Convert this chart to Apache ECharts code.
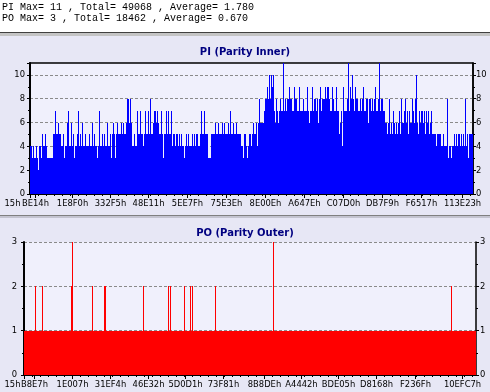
<!DOCTYPE html>
<html><head><meta charset="utf-8">
<script src="https://cdn.jsdelivr.net/npm/echarts/dist/echarts.min.js"></script>
<style>html,body{margin:0;padding:0;background:#fff}#c{width:490px;height:392px}</style>
</head><body><div id="c"></div>
<script>
const headerLines = ['PI Max= 11 , Total= 49068 , Average= 1.780', 'PO Max= 3 , Total= 18462 , Average= 0.670'];
const piTitle = 'PI (Parity Inner)';
const poTitle = 'PO (Parity Outer)';
const piTickLabels = ['15h','BE14h','1E8F0h','332F5h','48E11h','5EE7Fh','75E3Eh','8E00Eh','A647Eh','C07D0h','DB7F9h','F6517h','113E23h'];
const piTickIdx = [0, 5, 42, 80, 118, 157, 196, 235, 274, 313, 352, 391, 432];
const poTickLabels = ['15h','B8E7h','1E007h','31EF4h','46E32h','5D0D1h','73F81h','8B8DEh','A4442h','BDE05h','D8168h','F236Fh','10EFC7h'];
const poTickIdx = [0, 10, 48, 86, 124, 161, 199, 240, 277, 314, 352, 391, 438];

const piValues = [
4,4,3,4,3,3,4,3,2,4, 4,3,5,4,4,5,4,3,3,3, 3,3,3,5,5,7,5,5,6,5, 5,4,4,5,3,4,4,6,7,4,
4,6,4,5,3,4,4,5,7,4, 5,4,6,4,4,5,4,4,4,5, 4,4,6,4,5,4,4,3,4,7, 4,4,5,4,5,4,4,6,4,4,
5,3,5,6,5,3,5,6,5,5, 5,6,5,6,5,5,6,8,8,6, 8,6,4,4,5,4,4,7,5,5, 7,5,5,4,5,7,5,5,7,5,
8,5,5,6,7,7,6,7,6,5, 5,7,5,3,5,5,7,5,7,5, 5,7,4,5,5,4,5,5,4,5, 4,5,4,4,3,4,5,4,5,4,
4,4,5,4,5,4,5,5,4,4, 5,7,5,5,7,5,5,5,3,3, 3,5,5,5,5,6,5,5,6,5, 5,5,6,5,6,5,5,5,6,5,
7,5,5,6,5,5,6,5,5,5, 5,4,4,3,5,5,4,3,4,5, 5,4,5,6,5,5,6,4,6,8, 6,6,6,6,7,8,8,9,8,10,
8,10,9,10,7,6,8,7,6,7, 8,7,7,11,7,8,7,8,8,9, 8,8,7,7,9,8,8,7,7,9, 7,7,7,8,7,7,7,9,7,6,
7,7,9,7,8,8,7,8,6,8, 9,7,8,8,8,9,8,9,9,8, 7,7,9,8,7,7,9,7,7,5, 6,7,4,9,7,7,7,8,11,7,
9,8,10,8,7,9,8,8,7,7, 8,7,8,9,7,7,8,8,6,8, 8,7,8,7,8,9,7,7,8,11, 7,8,8,7,7,6,6,5,6,8,
5,6,5,7,6,5,6,5,6,7, 5,8,6,6,7,8,6,7,5,7, 6,6,8,7,6,8,10,6,5,7, 6,7,7,6,7,5,7,6,7,5,
6,7,5,5,5,5,4,5,5,5, 5,4,4,5,4,4,4,8,3,4, 4,3,4,4,5,4,5,4,5,5, 4,5,4,5,4,8,4,5,3,5,
5,5,5
];

const poValues = [
1,1,1,1,1,1,1,1,1,1,1,2,1,1,1,1,1,1,2,1,
1,1,1,1,1,1,1,1,1,1,1,1,1,1,1,1,1,1,1,1,
1,1,1,1,1,1,1,2,3,1,1,1,1,1,1,1,1,1,1,1,
1,1,1,1,1,1,1,1,2,1,1,1,1,1,1,1,1,1,1,1,
2,2,1,1,1,1,1,1,1,1,1,1,1,1,1,1,1,1,1,1,
1,1,1,1,1,1,1,1,1,1,1,1,1,1,1,1,1,1,1,2,
1,1,1,1,1,1,1,1,1,1,1,1,1,1,1,1,1,1,1,1,
1,1,1,1,2,1,2,1,1,1,1,1,1,1,1,1,1,1,1,1,
2,1,1,1,1,1,2,1,2,1,1,1,1,1,1,1,1,1,1,1,
1,1,1,1,1,1,1,1,1,1,1,2,1,1,1,1,1,1,1,1,
1,1,1,1,1,1,1,1,1,1,1,1,1,1,1,1,1,1,1,1,
1,1,1,1,1,1,1,1,1,1,1,1,1,1,1,1,1,1,1,1,
1,1,1,1,1,1,1,1,1,3,1,1,1,1,1,1,1,1,1,1,
1,1,1,1,1,1,1,1,1,1,1,1,1,1,1,1,1,1,1,1,
1,1,1,1,1,1,1,1,1,1,1,1,1,1,1,1,1,1,1,1,
1,1,1,1,1,1,1,1,1,1,1,1,1,1,1,1,1,1,1,1,
1,1,1,1,1,1,1,1,1,1,1,1,1,1,1,1,1,1,1,1,
1,1,1,1,1,1,1,1,1,1,1,1,1,1,1,1,1,1,1,1,
1,1,1,1,1,1,1,1,1,1,1,1,1,1,1,1,1,1,1,1,
1,1,1,1,1,1,1,1,1,1,1,1,1,1,1,1,1,1,1,1,
1,1,1,1,1,1,1,1,1,1,1,1,1,1,1,1,1,1,1,1,
1,1,1,1,1,1,1,2,1,1,1,1,1,1,1,1,1,1,1,1,
1,1,1,1,1,1,1,1,1,1,1,1
];

const LABEL_FONT = '"DejaVu Sans Condensed", "Liberation Sans", sans-serif';
const lblStyle = {fontFamily: LABEL_FONT, fontSize: 9.3, color: '#000'};

function xAxes(gridIndex, n, tickIdx, tickLabels, firstPad) {
  const cats = Array.from({length: n}, (_, i) => String(i));
  return [{
    gridIndex, type: 'category', data: cats, boundaryGap: true,
    axisLine: {show: true, lineStyle: {color: '#000', width: 1}},
    axisTick: {show: true, alignWithLabel: true, length: 4, lineStyle: {color: '#000'},
      interval: (i) => tickIdx.indexOf(i) >= 0},
    axisLabel: Object.assign({}, lblStyle, {margin: 5, showMinLabel: true, showMaxLabel: true, hideOverlap: false,
      interval: (i) => tickIdx.indexOf(i) >= 0,
      formatter: (v) => {
        const k = tickIdx.indexOf(Number(v));
        if (k < 0) return '';
        return k === 0 ? '{f|' + tickLabels[0] + '}' : tickLabels[k];
      },
      rich: {f: {fontFamily: LABEL_FONT, fontSize: 9.3, color: '#000', padding: [0, firstPad, 0, 0]}}
    }),
    splitLine: {show: false}
  }, {
    gridIndex, type: 'category', data: cats, boundaryGap: true, position: 'bottom',
    axisLine: {show: false},
    axisTick: {show: true, alignWithLabel: true, length: 2, lineStyle: {color: '#000'},
      interval: (i) => i % 8 === 0},
    axisLabel: {show: false}, splitLine: {show: false}
  }];
}

function yAxes(gridIndex, max, interval, lm, rm) {
  const base = {
    gridIndex, type: 'value', min: 0, max, interval,
    axisLine: {show: true, lineStyle: {color: '#000', width: 2}},
    axisTick: {show: true, length: 3, lineStyle: {color: '#000'}},
    minorTick: {show: true, splitNumber: 2, length: 2, lineStyle: {color: '#000'}},
  };
  return [
    Object.assign({}, base, {position: 'left',
      axisLabel: Object.assign({}, lblStyle, {margin: lm, showMaxLabel: max % interval === 0}),
      splitLine: {show: true, showMinLine: false, showMaxLine: max % interval === 0,
        lineStyle: {type: [3, 2], color: '#8a8a8a', width: 1}}}),
    Object.assign({}, base, {position: 'right',
      axisLine: {show: true, lineStyle: {color: '#000', width: 1.5}},
      axisLabel: Object.assign({}, lblStyle, {margin: rm, showMaxLabel: max % interval === 0}),
      splitLine: {show: false}})
  ];
}

function pixelBar(color) {
  return function (params, api) {
    const idx = api.value(0), v = api.value(1);
    const base = api.coord([idx, 0]);
    const top = api.coord([idx, v]);
    const w = api.size([1, 0])[0];
    const x0 = Math.round(base[0] - w / 2), x1 = Math.round(base[0] + w / 2);
    const y0 = Math.round(base[1]), y1 = Math.round(top[1]);
    return {type: 'rect', shape: {x: x0, y: y1, width: Math.max(1, x1 - x0), height: y0 - y1},
      style: {fill: color}};
  };
}

const chart = echarts.init(document.getElementById('c'), null, {renderer: 'canvas', width: 490, height: 392});
const xa = xAxes(0, piValues.length, piTickIdx, piTickLabels, 36).concat(xAxes(1, poValues.length, poTickIdx, poTickLabels, 24));
const ya = yAxes(0, 11, 2, 5, 3).concat(yAxes(1, 3, 1, 7, 4));

chart.setOption({
  animation: false,
  backgroundColor: '#e7e7f5',
  graphic: [
    {type: 'rect', shape: {x: 0, y: 0, width: 490, height: 32}, style: {fill: '#ffffff'}, silent: true},
    {type: 'rect', shape: {x: 0, y: 32, width: 490, height: 1}, style: {fill: '#404040'}, silent: true},
    {type: 'rect', shape: {x: 0, y: 33, width: 490, height: 3}, style: {fill: '#c4c4c4'}, silent: true},
    {type: 'rect', shape: {x: 0, y: 215, width: 490, height: 1}, style: {fill: '#808080'}, silent: true},
    {type: 'rect', shape: {x: 0, y: 216, width: 490, height: 2}, style: {fill: '#c4c4d0'}, silent: true}
  ],
  title: [
    {text: headerLines[0], left: 2, top: 2, padding: 0, textStyle: {fontFamily: '"Liberation Mono", monospace', fontSize: 10, fontWeight: 'normal', color: '#000'}},
    {text: headerLines[1], left: 2, top: 13, padding: 0, textStyle: {fontFamily: '"Liberation Mono", monospace', fontSize: 10, fontWeight: 'normal', color: '#000'}},
    {text: piTitle, left: 'center', top: 47, padding: 0, textStyle: {fontFamily: '"DejaVu Sans", sans-serif', fontSize: 10, fontWeight: 'bold', color: '#000080'}},
    {text: poTitle, left: 'center', top: 228, padding: 0, textStyle: {fontFamily: '"DejaVu Sans", sans-serif', fontSize: 10, fontWeight: 'bold', color: '#000080'}}
  ],
  grid: [
    {left: 30, top: 63, width: 443, height: 131, show: true, backgroundColor: '#f0f0fc', borderColor: '#000', borderWidth: 1.5},
    {left: 24, top: 242, width: 452, height: 133, show: true, backgroundColor: '#f0f0fc', borderWidth: 0}
  ],
  xAxis: xa,
  yAxis: ya,
  series: [
    {type: 'custom', xAxisIndex: 0, yAxisIndex: 0, renderItem: pixelBar('#0000ff'), clip: true, silent: true,
      encode: {x: 0, y: 1}, data: piValues.map((v, i) => [i, v])},
    {type: 'custom', xAxisIndex: 2, yAxisIndex: 2, renderItem: pixelBar('#ff0000'), clip: true, silent: true,
      encode: {x: 0, y: 1}, data: poValues.map((v, i) => [i, v])}
  ]
});
</script></body></html>
